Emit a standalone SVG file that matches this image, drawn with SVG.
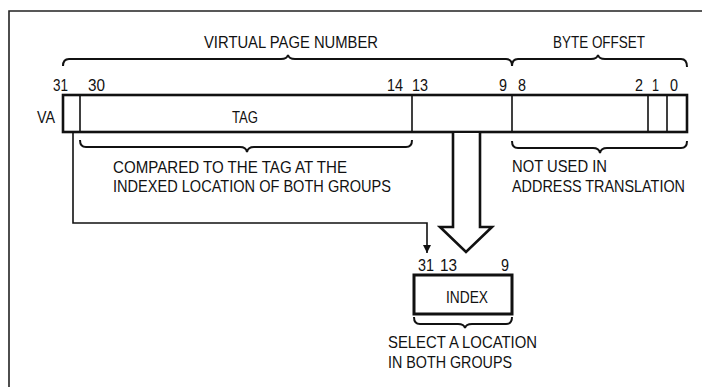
<svg xmlns="http://www.w3.org/2000/svg" width="702" height="387" viewBox="0 0 702 387">
<style>
.t{font-family:"Liberation Sans",Arial,sans-serif;font-size:17px;fill:#111}
.frame{fill:none;stroke:#222;stroke-width:1.6}
.reg{fill:#fff;stroke:#111;stroke-width:2.6}
.div{stroke:#111;stroke-width:1.6;fill:none}
.brace{fill:none;stroke:#111;stroke-width:2}
.line{fill:none;stroke:#111;stroke-width:1.6}
.big{fill:#fff;stroke:#111;stroke-width:2.6;stroke-linejoin:miter}
</style>
<defs>
<marker id="ah" viewBox="0 0 10 10" refX="10" refY="5" markerWidth="8" markerHeight="10" markerUnits="userSpaceOnUse" orient="auto">
<path d="M0,0 L10,5 L0,10 Z" fill="#111"/>
</marker>
</defs>
<rect width="702" height="387" fill="#fff"/>
<path class="frame" d="M9,387 L9,11 L702,11"/>

<g id="va-register">
<text class="t" x="37" y="123" textLength="18" lengthAdjust="spacingAndGlyphs">VA</text>
<rect class="reg" x="63" y="95" width="624" height="37"/>
<path class="div" d="M80,95 V132 M412,95 V132 M512,95 V132 M648,95 V132 M667,95 V132"/>
<text class="t" x="232" y="123" textLength="26" lengthAdjust="spacingAndGlyphs">TAG</text>
<text class="t" x="53" y="91" textLength="15" lengthAdjust="spacingAndGlyphs">31</text>
<text class="t" x="88" y="91" textLength="17" lengthAdjust="spacingAndGlyphs">30</text>
<text class="t" x="387" y="91" textLength="16" lengthAdjust="spacingAndGlyphs">14</text>
<text class="t" x="412" y="91" textLength="16" lengthAdjust="spacingAndGlyphs">13</text>
<text class="t" x="499" y="91" textLength="8" lengthAdjust="spacingAndGlyphs">9</text>
<text class="t" x="518" y="91" textLength="8" lengthAdjust="spacingAndGlyphs">8</text>
<text class="t" x="635" y="91" textLength="8" lengthAdjust="spacingAndGlyphs">2</text>
<text class="t" x="652" y="91" textLength="7" lengthAdjust="spacingAndGlyphs">1</text>
<text class="t" x="670" y="91" textLength="8" lengthAdjust="spacingAndGlyphs">0</text>
</g>

<g id="vpn-label">
<path class="brace" d="M63,66 Q63,59 69,59 L281,59 Q287,59 288,55 Q289,59 295,59 L506,59 Q512,59 512,66"/>
<text class="t" x="204" y="48" textLength="174" lengthAdjust="spacingAndGlyphs">VIRTUAL PAGE NUMBER</text>
</g>

<g id="byte-offset-label">
<path class="brace" d="M512,66 Q512,59 518,59 L591,59 Q597,59 598,55 Q599,59 605,59 L681,59 Q687,59 687,67"/>
<text class="t" x="553" y="48" textLength="92" lengthAdjust="spacingAndGlyphs">BYTE OFFSET</text>
</g>

<g id="tag-note">
<path class="brace" d="M80,140 Q80,147 86,147 L240,147 Q246,147 247,152 Q248,147 254,147 L406,147 Q412,147 412,140"/>
<text class="t" x="113" y="173" textLength="234" lengthAdjust="spacingAndGlyphs">COMPARED TO THE TAG AT THE</text>
<text class="t" x="113" y="192" textLength="278" lengthAdjust="spacingAndGlyphs">INDEXED LOCATION OF BOTH GROUPS</text>
</g>

<g id="offset-note">
<path class="brace" d="M512,141 Q512,148 518,148 L593,148 Q599,148 600,153 Q601,148 607,148 L681,148 Q687,148 687,141"/>
<text class="t" x="512" y="172" textLength="95" lengthAdjust="spacingAndGlyphs">NOT USED IN</text>
<text class="t" x="512" y="192" textLength="173" lengthAdjust="spacingAndGlyphs">ADDRESS TRANSLATION</text>
</g>

<g id="connectors">
<path class="line" d="M73,132 V223 H427 V253" marker-end="url(#ah)"/>
<path class="big" d="M453,133 V227 H440 L466,252 L492,227 H480 V133"/>
</g>

<g id="index-register">
<text class="t" x="418" y="271" textLength="16" lengthAdjust="spacingAndGlyphs">31</text>
<text class="t" x="440" y="271" textLength="17" lengthAdjust="spacingAndGlyphs">13</text>
<text class="t" x="501" y="271" textLength="8" lengthAdjust="spacingAndGlyphs">9</text>
<rect x="414" y="275" width="98" height="39" fill="#fff" stroke="#111" stroke-width="3"/>
<text class="t" x="446" y="303" textLength="42" lengthAdjust="spacingAndGlyphs">INDEX</text>
</g>

<g id="index-note">
<path class="brace" d="M414,317 Q414,324 420,324 L458,324 Q464,324 465,328 Q466,324 472,324 L506,324 Q512,324 512,317"/>
<text class="t" x="388" y="348" textLength="149" lengthAdjust="spacingAndGlyphs">SELECT A LOCATION</text>
<text class="t" x="388" y="368" textLength="124" lengthAdjust="spacingAndGlyphs">IN BOTH GROUPS</text>
</g>
</svg>
